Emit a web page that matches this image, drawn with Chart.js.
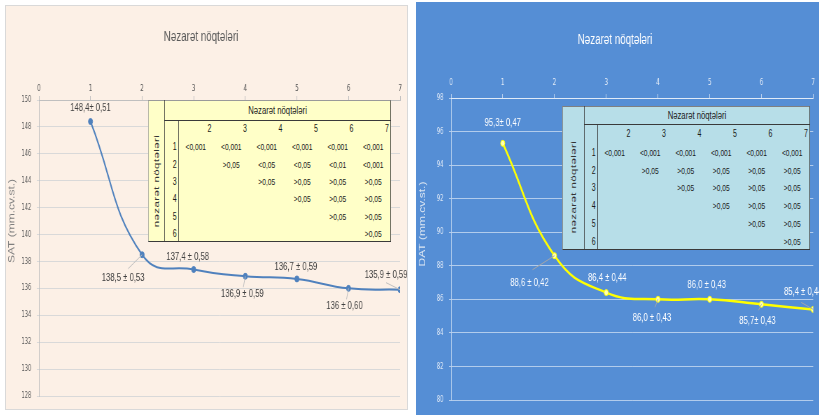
<!DOCTYPE html>
<html lang="az">
<head>
<meta charset="UTF-8">
<title>SAT / DAT</title>
<script src="https://cdn.jsdelivr.net/npm/chart.js"></script>
<style>
  body { margin:0; background:#fff; width:819px; height:415px; overflow:hidden; position:relative;
         font-family:"Liberation Sans", Arial, sans-serif; }
  .panel { position:absolute; overflow:hidden; }
  .squeeze { position:absolute; left:0; top:0; transform-origin:0 0; transform:scaleX(0.7); }
  .squeeze div { white-space:nowrap; }
</style>
</head>
<body>
<div class="panel" style="left:6px;top:6px;width:401px;height:403px;background:#FCF0E6;outline:1px solid #D9D9D9;">
  <div class="squeeze" id="satBox" style="width:573px;height:403px;">
    <canvas id="satChart" width="573" height="403"></canvas>
  </div>
</div>
<div class="panel" style="left:416px;top:2px;width:403px;height:413px;background:#558ED5;">
  <div class="squeeze" id="datBox" style="width:576px;height:413px;">
    <canvas id="datChart" width="576" height="413"></canvas>
  </div>
</div>
<script>
// data
const xPoints = [1, 2, 3, 4, 5, 6, 7];
const satValues = [148.4, 138.5, 137.4, 136.9, 136.7, 136.0, 135.9];
const satLabels = ['148,4\u00b1 0,51', '138,5 \u00b1 0,53', '137,4 \u00b1 0,58', '136,9 \u00b1 0,59',
                   '136,7 \u00b1 0,59', '136 \u00b1 0,60', '135,9 \u00b1 0,59'];
const datValues = [95.3, 88.6, 86.4, 86.0, 86.0, 85.7, 85.4];
const datLabels = ['95,3\u00b1 0,47', '88,6 \u00b1 0,42', '86,4 \u00b1 0,44', '86,0 \u00b1 0,43',
                   '86,0 \u00b1 0,43', '85,7\u00b1 0,43', '85,4 \u00b1 0,44'];
const chartTitle = 'Nəzarət nöqtələri';
const sideTitle = 'nəzarət nöqtələri';
const tableCols = ['2', '3', '4', '5', '6', '7'];
const tableRows = ['1', '2', '3', '4', '5', '6'];
const satP = [
  ['<0,001', '<0,001', '<0,001', '<0,001', '<0,001', '<0,001'],
  ['', '>0,05', '<0,05', '<0,05', '<0,01', '<0,001'],
  ['', '', '>0,05', '>0,05', '>0,05', '>0,05'],
  ['', '', '', '>0,05', '>0,05', '>0,05'],
  ['', '', '', '', '>0,05', '>0,05'],
  ['', '', '', '', '', '>0,05']
];
const datP = [
  ['<0,001', '<0,001', '<0,001', '<0,001', '<0,001', '<0,001'],
  ['', '>0,05', '>0,05', '>0,05', '>0,05', '>0,05'],
  ['', '', '>0,05', '>0,05', '>0,05', '>0,05'],
  ['', '', '', '>0,05', '>0,05', '>0,05'],
  ['', '', '', '', '>0,05', '>0,05'],
  ['', '', '', '', '', '>0,05']
];

const SQ = 0.7; // the whole picture is squeezed horizontally
const FONT = '"Liberation Sans", Arial, sans-serif';
const NARROW = '"Liberation Sans Narrow", "DejaVu Sans Condensed", sans-serif';

// label placement, screen px relative to the point: [dx, dy] and optional leader end
const satLabelPos = [[0, -14], [-19, 23], [-6, -13], [-3, 18], [-1, -12], [-4, 18], [-14, -15]];
const satLeaders = [null, [-14, 14], null, [-2, 11], null, [-2, 11], [-14, -7]];
const datLabelPos = [[0, -20], [-25, 27], [1, -15], [-6, 19], [-3, -14], [-4, 17], [-10, -17]];
const datLeaders = [null, [-22, 14], null, [-3, 8], null, [-3, 6], [-12, -7]];

const decor = {
  id: 'decor',
  afterDatasetsDraw(chart, args, o) {
    const ctx = chart.ctx, xs = chart.scales.x, ys = chart.scales.y;
    ctx.save();
    ctx.textAlign = 'center';
    ctx.textBaseline = 'middle';
    ctx.fillStyle = o.titleColor;
    ctx.font = '14px ' + FONT;
    ctx.fillText(chartTitle, o.titleX, o.titleY);

    ctx.save();
    ctx.font = '12px ' + FONT;
    ctx.fillStyle = o.axisColor;
    ctx.translate(o.axisX, o.axisY);
    ctx.rotate(-Math.PI / 2);
    ctx.fillText(o.axisTitle, 0, 0);
    ctx.restore();

    ctx.font = '11px ' + FONT;
    o.values.forEach((v, i) => {
      const px = xs.getPixelForValue(xPoints[i]);
      const py = ys.getPixelForValue(v);
      const lead = o.leaders[i];
      if (lead) {
        ctx.strokeStyle = o.leaderColor;
        ctx.lineWidth = 1;
        ctx.beginPath();
        ctx.moveTo(px, py);
        ctx.lineTo(px + lead[0] / SQ, py + lead[1]);
        ctx.stroke();
      }
      const p = o.pos[i];
      ctx.fillStyle = o.labelColor;
      ctx.fillText(o.labels[i], px + p[0] / SQ, py + p[1]);
    });
    ctx.restore();
  }
};

function makeChart(id, values, col, yMin, yMax, pad, yWidth, tickPad, decorOpts) {
  return new Chart(document.getElementById(id), {
    type: 'line',
    data: {
      datasets: [{
        data: values.map((v, i) => ({ x: xPoints[i], y: v })),
        borderColor: col.line,
        borderWidth: col.lineWidth,
        backgroundColor: col.point,
        pointBorderColor: col.pointBorder,
        pointBorderWidth: 1,
        pointRadius: 3,
        tension: 0.45,
        fill: false
      }]
    },
    options: {
      responsive: false,
      animation: false,
      layout: { padding: pad },
      plugins: { legend: { display: false }, tooltip: { enabled: false }, decor: decorOpts },
      scales: {
        x: {
          type: 'linear', position: 'top', min: 0, max: 7,
          ticks: { stepSize: 1, padding: tickPad, maxRotation: 0, minRotation: 0, autoSkip: false,
                   color: col.tick, font: { family: NARROW, size: 9 } },
          grid: { drawOnChartArea: false, tickLength: 4, color: col.axis },
          border: { color: col.axis },
          afterFit: s => { s.height = 20; }
        },
        y: {
          min: yMin, max: yMax,
          ticks: { stepSize: 2, padding: 8, color: col.tick, font: { family: NARROW, size: 8 } },
          grid: { color: col.grid, tickLength: 3 },
          border: { color: col.axis },
          afterFit: s => { s.width = yWidth; }
        }
      }
    },
    plugins: [decor]
  });
}

function buildTable(hostId, g, cells, look) {
  const host = document.getElementById(hostId);
  const add = (css, text) => {
    const d = document.createElement('div');
    d.style.cssText = 'position:absolute;' + css;
    if (text !== undefined) d.textContent = text;
    host.appendChild(d);
    return d;
  };
  const H = g.headH + g.colHeadH + g.rowH * tableRows.length;
  const W = g.sideW + g.numW + g.colW * tableCols.length;
  const x1 = g.left + g.sideW, x2 = x1 + g.numW, right = g.left + W;
  add(`left:${g.left}px;top:${g.top}px;width:${W}px;height:${H}px;background:${look.bg};box-sizing:border-box;` +
      `border:1px solid ${look.outer};border-left-width:1.4px;border-right:1.4px solid ${look.line};border-bottom-color:${look.line}`);
  add(`left:${x1}px;top:${g.top}px;width:1.4px;height:${H}px;background:${look.line}`);
  add(`left:${x1}px;top:${g.top + g.headH}px;width:${right - x1}px;height:1px;background:${look.line}`);
  add(`left:${x2}px;top:${g.top + g.headH}px;width:1.4px;height:${H - g.headH}px;background:${look.line}`);

  const txt = 'color:#1a1a1a;font-size:10px;';
  add(`${txt}font-size:11px;left:${x1}px;top:${g.top}px;width:${right - x1}px;height:${g.headH}px;line-height:${g.headH}px;text-align:center`, chartTitle);
  const sideMid = g.top + g.headH + (H - g.headH) / 2;
  add(`color:#333;font-size:11.5px;letter-spacing:0.4px;left:${g.left + g.sideW / 2 - 60}px;top:${sideMid - 8}px;width:120px;height:16px;line-height:16px;` +
      `text-align:center;transform:rotate(-90deg)`, sideTitle);
  tableCols.forEach((c, j) => {
    add(`${txt}left:${x2 + j * g.colW}px;top:${g.top + g.headH}px;width:${g.colW - 3}px;height:${g.colHeadH}px;line-height:${g.colHeadH}px;text-align:right`, c);
  });
  tableRows.forEach((r, i) => {
    const y = g.top + g.headH + g.colHeadH + i * g.rowH;
    add(`${txt}left:${x1}px;top:${y}px;width:${g.numW - 2}px;height:${g.rowH}px;line-height:${g.rowH}px;text-align:right`, r);
    cells[i].forEach((v, j) => {
      if (!v) return;
      add(`${txt}font-size:9.5px;left:${x2 + j * g.colW}px;top:${y}px;width:${g.colW}px;height:${g.rowH}px;line-height:${g.rowH}px;text-align:center`, v);
    });
  });
}

makeChart('satChart', satValues,
  { line: '#4F81BD', lineWidth: 2, point: '#4F81BD', pointBorder: '#4F81BD', tick: '#595959', axis: '#BFBFBF', grid: '#D9D9D9' },
  128, 150, { left: 0, right: 10, top: 74, bottom: 13 }, 47, 2,
  { titleX: 278.6, titleY: 31, titleColor: '#595959',
    axisTitle: 'SAT (mm.cv.st.)', axisX: 8.6, axisY: 215, axisColor: '#7F7F7F',
    values: satValues, labels: satLabels, pos: satLabelPos, leaders: satLeaders,
    labelColor: '#404040', leaderColor: '#BFBFBF' });

makeChart('datChart', datValues,
  { line: '#FFFF00', lineWidth: 2.5, point: '#FFFFB0', pointBorder: '#FFFF00', tick: '#E4ECF7', axis: 'rgba(255,255,255,0.6)', grid: 'rgba(255,255,255,0.55)' },
  80, 98, { left: 0, right: 6, top: 76, bottom: 15 }, 50, 6,
  { titleX: 284.3, titleY: 38, titleColor: '#FFFFFF',
    axisTitle: 'DAT (mm.cv.st.)', axisX: 10, axisY: 222, axisColor: '#DCE6F2',
    values: datValues, labels: datLabels, pos: datLabelPos, leaders: datLeaders,
    labelColor: '#FFFFFF', leaderColor: '#A6A6A6' });

buildTable('satBox', { left: 202.9, top: 94, sideW: 22.9, numW: 20, colW: 50.7, headH: 20, colHeadH: 18.3, rowH: 17.3 },
  satP, { bg: '#FFFFC8', outer: '#9A9A9A', line: '#3A3A3A' });
buildTable('datBox', { left: 208.6, top: 104, sideW: 31.4, numW: 18.6, colW: 50.7, headH: 18, colHeadH: 20, rowH: 17.7 },
  datP, { bg: '#B7DEE8', outer: '#7F7F7F', line: '#3A3A3A' });
</script>
</body>
</html>
